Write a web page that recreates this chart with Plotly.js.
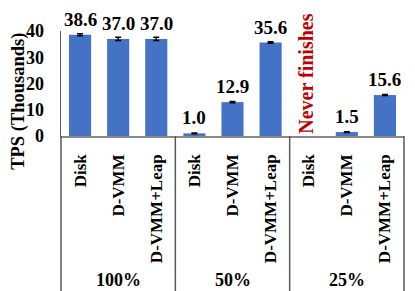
<!DOCTYPE html>
<html>
<head>
<meta charset="utf-8">
<script src="https://cdn.plot.ly/plotly-3.0.1.min.js"></script>
<style>html,body{margin:0;padding:0;background:#fff;}#chart{width:415px;height:291px;}</style>
</head>
<body>
<div id="chart"></div>
<script>
// ---- data ----
const groups = ["100%", "50%", "25%"];
const systems = ["Disk", "D-VMM", "D-VMM+Leap"];
const tps = [38.6, 37.0, 37.0, 1.0, 12.9, 35.6, null, 1.5, 15.6];   // thousands
const tpsErr = [0.4, 0.6, 0.6, 0.15, 0.2, 0.3, 0, 0.15, 0.2];
const valueLabels = ["38.6", "37.0", "37.0", "1.0", "12.9", "35.6", "", "1.5", "15.6"];
const noteText = "Never finishes";
const noteIndex = 6;
const yTitle = "TPS (Thousands)";

// ---- build ----
const nCat = groups.length * systems.length;
const xIdx = [];
const tickText = [];
for (let g = 0; g < groups.length; g++) {
  for (let s = 0; s < systems.length; s++) {
    xIdx.push(g * systems.length + s);
    tickText.push(systems[s]);
  }
}
const FONT = "Liberation Serif, Times New Roman, serif";

const trace = {
  type: "bar",
  x: xIdx,
  y: tps,
  marker: {color: "#4472C4", line: {width: 0}},
  error_y: {type: "data", array: tpsErr, visible: true, color: "#000", thickness: 1.5, width: 3},
  hoverinfo: "none"
};

const annotations = [];
xIdx.forEach((x, i) => {
  if (tps[i] === null) return;
  annotations.push({
    x: x, y: tps[i], xref: "x", yref: "y", text: valueLabels[i], showarrow: false,
    yanchor: "bottom", yshift: 3,
    font: {family: FONT, size: 19, color: "#000", weight: "bold"}
  });
});
annotations.push({
  x: xIdx[noteIndex], y: 0, xref: "x", yref: "y", text: noteText, showarrow: false,
  textangle: -90, yanchor: "bottom", xshift: -3, yshift: 0,
  font: {family: FONT, size: 20, color: "#C00000", weight: "bold"}
});
groups.forEach((g, gi) => {
  annotations.push({
    x: gi * systems.length + (systems.length - 1) / 2, y: -1.375, xref: "x", yref: "paper",
    text: g, showarrow: false, yanchor: "middle",
    font: {family: FONT, size: 18, color: "#000", weight: "bold"}
  });
});
annotations.push({
  x: -0.126, y: 0.333, xref: "paper", yref: "paper", text: yTitle, showarrow: false,
  textangle: -90, xanchor: "center", yanchor: "middle",
  font: {family: FONT, size: 18.5, color: "#000", weight: "bold"}
});

const shapes = [];
for (let g = 0; g <= groups.length; g++) {
  const xp = (g * systems.length) / nCat;
  shapes.push({
    type: "line", xref: "paper", yref: "paper", x0: xp, x1: xp, y0: 0, y1: -1.5,
    line: {color: "#595959", width: 1.5}
  });
}

const layout = {
  width: 415, height: 291,
  margin: {l: 61, r: 11, t: 31, b: 155, pad: 0},
  paper_bgcolor: "#fff", plot_bgcolor: "#fff",
  showlegend: false,
  bargap: 0.42,
  font: {family: FONT, size: 18, color: "#000"},
  xaxis: {
    range: [-0.5, nCat - 0.5], tickvals: xIdx, ticktext: tickText, tickangle: -90,
    ticks: "", showline: true, linecolor: "#898989", linewidth: 1.5, showgrid: false,
    zeroline: false, ticklabelstandoff: 10,
    tickfont: {family: FONT, size: 17, color: "#000", weight: "bold"}
  },
  yaxis: {
    range: [0, 40], dtick: 10, ticks: "", showline: true, linecolor: "#595959", linewidth: 1.5,
    showgrid: false, zeroline: false, ticklabelstandoff: 12,
    tickfont: {family: FONT, size: 18, color: "#000", weight: "bold"}
  },
  annotations: annotations,
  shapes: shapes
};

Plotly.newPlot("chart", [trace], layout, {staticPlot: true, displayModeBar: false});
</script>
</body>
</html>
